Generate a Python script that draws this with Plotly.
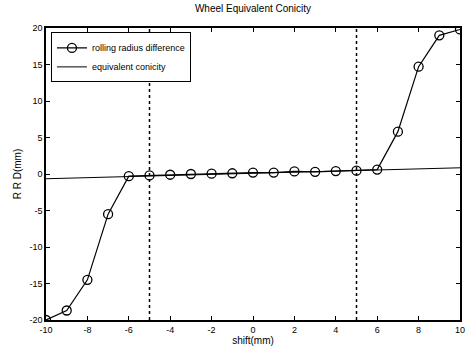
import plotly.graph_objects as go

shift = [-10, -9, -8, -7, -6, -5, -4, -3, -2, -1, 0, 1, 2, 3, 4, 5, 6, 7, 8, 9, 10]
rrd = [-20.0, -18.7, -14.5, -5.5, -0.3, -0.2, -0.1, 0.0, 0.05, 0.1, 0.2, 0.2, 0.35, 0.3,
       0.4, 0.45, 0.6, 5.8, 14.7, 19.0, 19.8]
conicity_x = [-10, 10]
conicity_y = [-0.65, 0.85]
guide_x = [-5, 5]
x_ticks = list(range(-10, 11, 2))
x_ticklabels = ["-10", "-8", "-6", "-4", "-2", "0", "2", "4", "6", "8", "10"]
y_ticks = list(range(-20, 21, 5))
y_ticklabels = ["-20", "-15", "-10", "-5", "0", "5", "10", "15", "20"]

fig = go.Figure()
fig.add_trace(go.Scatter(x=shift, y=rrd, mode="lines+markers", name="rolling radius difference",
                         line=dict(color="black", width=1.2),
                         marker=dict(symbol="circle-open", size=9, color="black", line=dict(width=1.3))))
fig.add_trace(go.Scatter(x=conicity_x, y=conicity_y, mode="lines", name="equivalent conicity",
                         line=dict(color="black", width=1)))
for gx in guide_x:
    fig.add_trace(go.Scatter(x=[gx, gx], y=[-20, 20], mode="lines", showlegend=False,
                             line=dict(color="black", width=1.5, dash="dot")))

axis_common = dict(showline=True, linecolor="black", linewidth=1.5, mirror="ticks",
                   ticks="inside", ticklen=4, tickcolor="black", showgrid=False, zeroline=False,
                   tickfont=dict(size=9, color="black"))
fig.update_layout(
    width=469, height=351,
    margin=dict(l=46, r=4, t=28, b=31),
    paper_bgcolor="white", plot_bgcolor="white",
    font=dict(family="Liberation Sans, Arial, sans-serif", color="black", size=10),
    title=dict(text="Wheel Equivalent Conicity", x=0.5, xref="paper", y=0.985, yanchor="top",
               font=dict(size=10)),
    xaxis=dict(range=[-10, 10], tickvals=x_ticks, ticktext=x_ticklabels,
               title=dict(text="shift(mm)", standoff=1, font=dict(size=10)), **axis_common),
    yaxis=dict(range=[-20, 20], tickvals=y_ticks, ticktext=y_ticklabels,
               title=dict(text="R R D(mm)", standoff=6, font=dict(size=10)), **axis_common),
    legend=dict(x=0.012, y=0.985, xanchor="left", yanchor="top", bgcolor="white",
                bordercolor="black", borderwidth=1, font=dict(size=9),
                tracegroupgap=0, itemwidth=30),
    showlegend=True,
)
fig.write_html("out.html", config={"displayModeBar": False},
               post_script="document.body.style.margin='0';")
